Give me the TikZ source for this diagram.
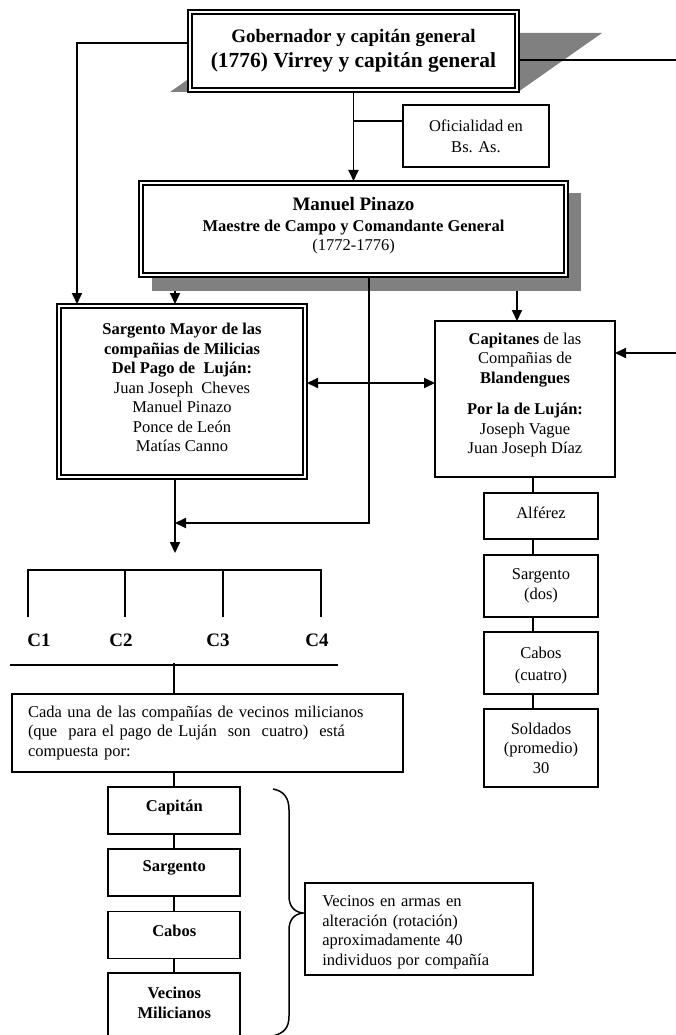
\documentclass[tikz,border=0pt]{standalone}
\usepackage{fontspec}
\setmainfont{Liberation Serif}
\usetikzlibrary{arrows.meta}
\newcommand\updp[1]{\rule[-#1]{0pt}{#1}}
\newcommand\dnht[1]{\rule{0pt}{#1}}
\begin{document}
\begin{tikzpicture}[x=1pt,y=-1pt,
  every node/.style={inner sep=0pt, outer sep=0pt},
  bx/.style={draw, line width=1.8pt, fill=white, align=center, font=\fontsize{16.5}{19.5}\selectfont},
  ln/.style={line width=1.8pt},
  arr/.style={line width=1.8pt, -{Triangle[length=11pt,width=10pt]}},
  darr/.style={line width=1.8pt, {Triangle[length=11pt,width=10pt]}-{Triangle[length=11pt,width=10pt]}},
  innerln/.style={line width=1.2pt},
  shade/.style={fill=gray, draw=none},
  clab/.style={font=\fontsize{19}{19}\selectfont\bfseries},
]
\useasboundingbox (0,0) rectangle (676,1035);

% shadows
\fill[shade] (170,92) -- (518,92) -- (602,33) -- (254,33) -- cycle;
\fill[shade] (152,193) rectangle (581,291);

% top box
\node[bx, minimum width=331, minimum height=82, font=\fontsize{19}{25}\selectfont\bfseries] (gob) at (353.5,51)
  {Gobernador y capitán general\\ {\fontsize{21.5}{25}\selectfont (1776) Virrey y capitán general}};
\draw[innerln] ([shift={(4,4)}]gob.north west) rectangle ([shift={(-4,-4)}]gob.south east);

% oficialidad
\node[bx, minimum width=146, minimum height=62] (ofi) at (476,136) {Oficialidad en\\[1.5pt] Bs. As.};

% Pinazo
\node[bx, minimum width=429, minimum height=96] (pin) at (353.5,229)
  {{\fontsize{19}{21}\selectfont\bfseries Manuel Pinazo}\\[2pt] {\bfseries Maestre de Campo y Comandante General}\\[-1pt] (1772-1776)\updp{11pt}};
\draw[innerln] ([shift={(4,4)}]pin.north west) rectangle ([shift={(-4,-4)}]pin.south east);

% Sargento mayor
\node[bx, minimum width=250, minimum height=175] (sarg) at (182,391.5)
  {{\bfseries Sargento Mayor de las}\\ {\bfseries compañias de Milicias}\\ {\bfseries Del Pago de\ \ Luján:}\\
   Juan Joseph\ \ Cheves\\ Manuel Pinazo\\ Ponce de León\\ Matías Canno\updp{7.5pt}};
\draw[innerln] ([shift={(4,4)}]sarg.north west) rectangle ([shift={(-4,-4)}]sarg.south east);

% Capitanes
\node[bx, minimum width=180, minimum height=156] (cap) at (525,399)
  {{\bfseries Capitanes} de las\\ Compañias de\\ {\bfseries Blandengues}\\[12pt]
   {\bfseries Por la de Luján:}\\ Joseph Vague\\ Juan Joseph Díaz\updp{11pt}};

% right column
\node[bx, minimum width=114, minimum height=46] (alf) at (541,516) {Alférez\updp{6pt}};
\node[bx, minimum width=114, minimum height=62] (sgd) at (541,586) {Sargento\\ (dos)};
\node[bx, minimum width=114, minimum height=62] (cbc) at (541,663) {\dnht{16pt}Cabos\\[3pt] (cuatro)};
\node[bx, minimum width=114, minimum height=78] (sol) at (541,748) {Soldados\\ (promedio)\\ 30};
\coordinate (rcol) at (533,0);
\draw[ln] (cap.south -| rcol) -- (alf.north -| rcol);
\draw[ln] (alf.south -| rcol) -- (sgd.north -| rcol);
\draw[ln] (sgd.south -| rcol) -- (cbc.north -| rcol);
\draw[ln] (cbc.south -| rcol) -- (sol.north -| rcol);

% connectors at the top
\draw[arr] ([yshift=8pt]gob.west) -| ([xshift=20pt]sarg.north west);
\coordinate (rc) at (680,200);
\draw[arr] ([yshift=-9pt]gob.east) -| (rc) |- ([yshift=46pt]cap.east);
\draw[arr] (gob.south) -- (pin.north);
\draw[ln] ([yshift=15pt]ofi.west) -- ([yshift=15pt]ofi.west -| gob.south);

\coordinate (pinb) at ([yshift=-14pt]pin.south);
\coordinate (sl) at ([xshift=-7pt]sarg.north);
\coordinate (cl) at ([xshift=-8pt]cap.north);
\draw[arr] (pinb -| sl) -- (sl);
\draw[arr] (pinb -| cl) -- (cl);

\coordinate (da) at (0,383);
\draw[darr] (sarg.east |- da) -- (cap.west |- da);

% down to companies
\coordinate (sl2) at ([xshift=-7pt]sarg.south);
\coordinate (ctip) at (175,553);
\coordinate (mj) at (175,523);
\coordinate (pv) at ([xshift=15.5pt]pin.south);
\draw[arr] (sl2) -- (ctip);
\draw[arr] (pv) |- (mj);

% bracket of companies
\draw[ln] (28,617) |- (321,570) -- (321,617);
\draw[ln] (125,570) -- (125,617);
\draw[ln] (223,570) -- (223,617);
\node[clab] (c1) at (39,640) {C1};
\node[clab] (c2) at (121,640) {C2};
\node[clab] (c3) at (218,640) {C3};
\node[clab] (c4) at (317,640) {C4};
\coordinate (hl) at (174,665);
\draw[ln] (10,665) -- (338,665);

% cada una
\node[bx, minimum width=391, minimum height=78, text width=359, align=left] (cada) at (207.5,733)
  {Cada una de las compañías de vecinos milicianos\\ (que\ \ para el pago de Luján\ \ son\ \ cuatro)\ \ está\\ compuesta por:};
\draw[ln] ([yshift=2pt]hl) -- (hl |- cada.north);

% lower column
\node[bx, minimum width=132, minimum height=47] (cpt) at (174.3,810.5) {\bfseries Capitán\updp{9pt}};
\node[bx, minimum width=132, minimum height=47] (sgt) at (174.3,872.7) {\bfseries Sargento\updp{13pt}};
\node[bx, minimum width=132, minimum height=47] (cab) at (174.3,935) {\bfseries Cabos\updp{8pt}};
\node[bx, minimum width=132, minimum height=66] (vec) at (174.3,1006.3) {{\bfseries Vecinos}\\ {\bfseries Milicianos}\updp{7.5pt}};
\draw[ln] (cada.south -| cpt.north) -- (cpt.north);
\draw[ln] (cpt.south) -- (sgt.north);
\draw[ln] (sgt.south) -- (cab.north);
\draw[ln] (cab.south) -- (vec.north);

% brace
\draw[line width=1.5pt] (273,789) .. controls (284,791) and (289,798) .. (289,810) -- (289,896)
  .. controls (289,906) and (294,912) .. (303,913) .. controls (294,914) and (289,920) .. (289,930)
  -- (289,1016) .. controls (289,1028) and (284,1033) .. (273,1036);

% vecinos en armas
\node[bx, minimum width=228, minimum height=92, text width=194, align=left] (vea) at (419.3,929)
  {\dnht{17.4pt}Vecinos en armas en\\ alteración (rotación)\\ aproximadamente 40\\ individuos por compañía};
\end{tikzpicture}
\end{document}
